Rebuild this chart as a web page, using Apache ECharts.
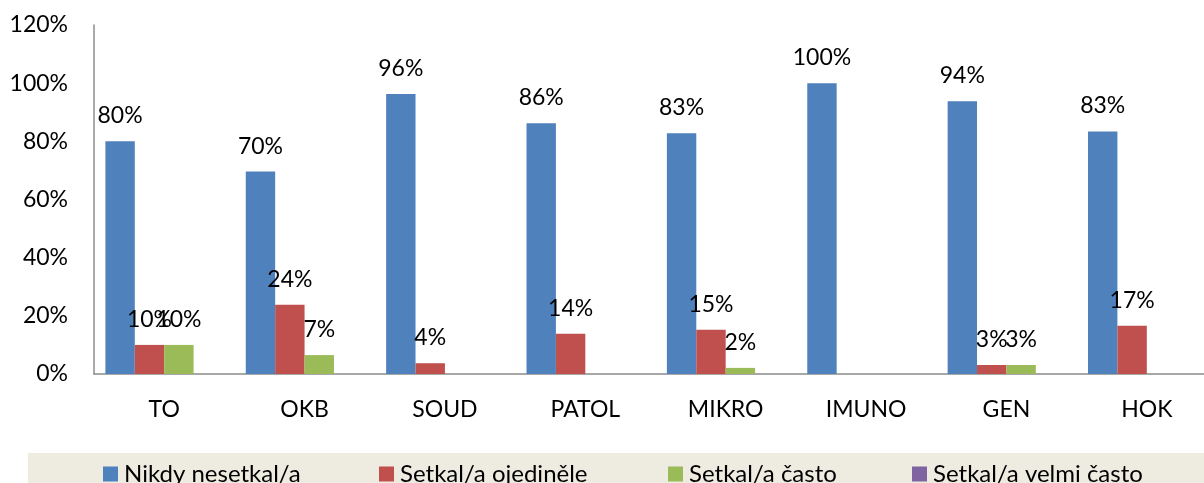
<!DOCTYPE html>
<html>
<head>
<meta charset="UTF-8">
<title>Setkání</title>
<script src="https://cdn.jsdelivr.net/npm/echarts@6/dist/echarts.min.js"></script>
<style>
  html, body { margin: 0; padding: 0; background: #fff; }
  #chart { width: 1204px; height: 483px; }
</style>
</head>
<body>
<div id="chart"></div>
<script>
// data (percent)
var categories = ['TO', 'OKB', 'SOUD', 'PATOL', 'MIKRO', 'IMUNO', 'GEN', 'HOK'];
var seriesNames = ['Nikdy nesetkal/a', 'Setkal/a ojediněle', 'Setkal/a často', 'Setkal/a velmi často'];
var nikdy = [80, 69.6, 96.3, 86.2, 82.8, 100, 93.8, 83.4];
var ojedinele = [10, 23.8, 3.7, 13.8, 15.2, 0, 3.1, 16.6];
var casto = [10, 6.5, 0, 0, 2.1, 0, 3.1, 0];
var velmiCasto = [0, 0, 0, 0, 0, 0, 0, 0];
var yTicks = [0, 20, 40, 60, 80, 100, 120];

var colors = ['#4F81BD', '#C0504D', '#9BBB59', '#8064A2'];
var font = 'Lato';

var myChart = echarts.init(document.getElementById('chart'));

function barSeries(name, data, color) {
  return {
    name: name,
    type: 'bar',
    data: data,
    barWidth: 29.4,
    barGap: '0%',
    itemStyle: { color: color },
    label: {
      show: true,
      position: 'top',
      distance: 14,
      color: '#000',
      fontFamily: font,
      fontSize: 23,
      formatter: function (p) {
        return p.value > 0 ? Math.round(p.value) + '%' : '';
      }
    }
  };
}

var legendLefts = [103, 379, 668, 912];
var legends = seriesNames.map(function (n, i) {
  return {
    data: [n],
    left: legendLefts[i],
    top: 462,
    padding: 0,
    itemWidth: 15,
    itemHeight: 15,
    icon: 'rect',
    textStyle: { fontFamily: font, fontSize: 24, color: '#000', padding: [0, 0, 0, 1] }
  };
});

var option = {
  animation: false,
  graphic: [{
    type: 'rect',
    z: -1,
    shape: { x: 28, y: 453, width: 1176, height: 40 },
    style: { fill: '#EEECE1' }
  }],
  legend: legends,
  grid: { left: 94, top: 25, width: 1123, height: 349, outerBoundsMode: 'none' },
  xAxis: {
    type: 'category',
    data: categories,
    axisLine: { lineStyle: { color: '#8C8C8C', width: 1.5 } },
    axisTick: { show: false },
    axisLabel: { color: '#000', fontFamily: font, fontSize: 23, margin: 24 }
  },
  yAxis: {
    type: 'value',
    min: yTicks[0],
    max: yTicks[yTicks.length - 1],
    interval: 20,
    axisLine: { show: true, lineStyle: { color: '#8C8C8C', width: 1.5 } },
    axisTick: { show: false },
    splitLine: { show: false },
    axisLabel: { color: '#000', fontFamily: font, fontSize: 23, margin: 26, formatter: '{value}%' }
  },
  series: [
    barSeries(seriesNames[0], nikdy, colors[0]),
    barSeries(seriesNames[1], ojedinele, colors[1]),
    barSeries(seriesNames[2], casto, colors[2]),
    barSeries(seriesNames[3], velmiCasto, colors[3])
  ]
};

myChart.setOption(option);
</script>
</body>
</html>
